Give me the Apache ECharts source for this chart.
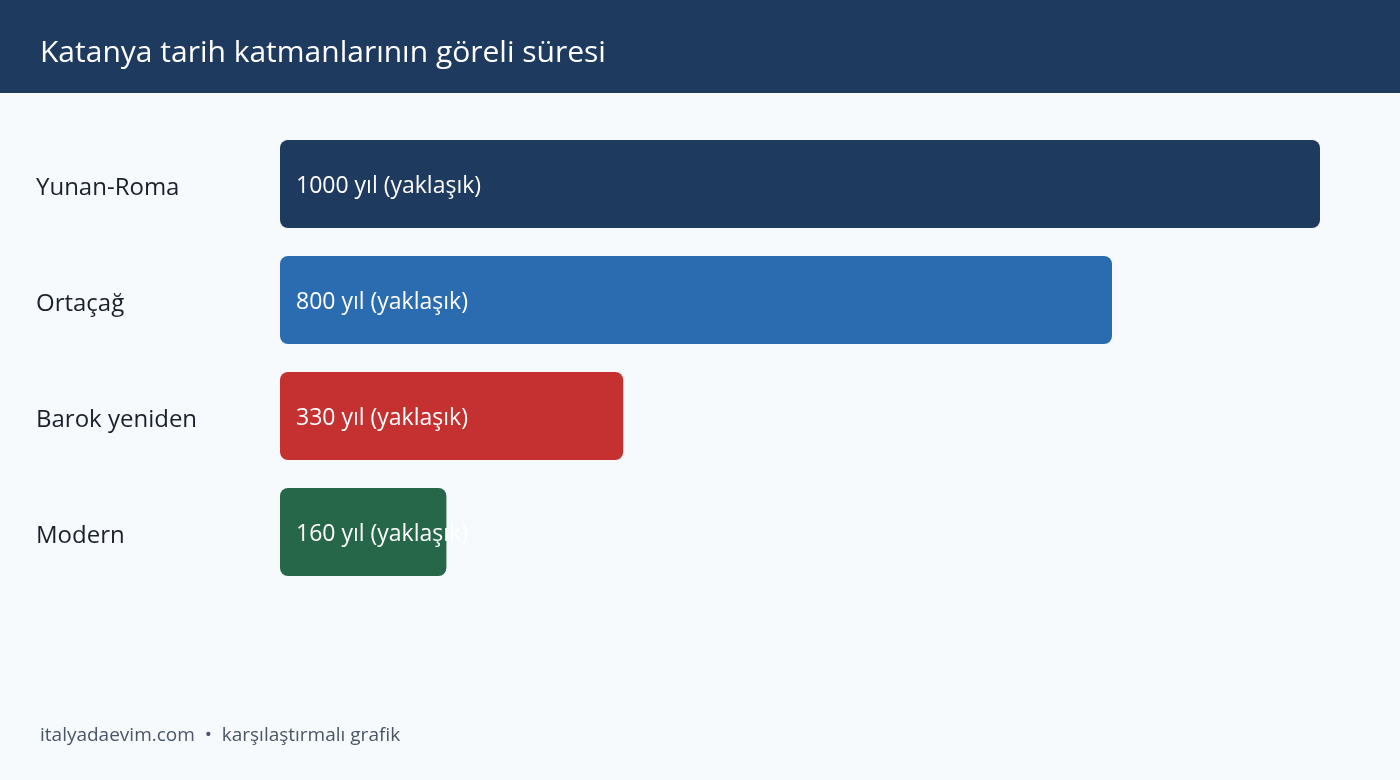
<!DOCTYPE html>
<html>
<head>
<meta charset="utf-8">
<script src="https://cdn.jsdelivr.net/npm/echarts@6/dist/echarts.min.js"></script>
<style>
	html,body{margin:0;padding:0;background:#f7fafc;}
	#chart{width:1400px;height:780px;}
</style>
</head>
<body>
<div id="chart"></div>
<script>
// donemler ve sureleri (yil)
var categories = ['Yunan-Roma', 'Ortaçağ', 'Barok yeniden', 'Modern'];
var durations = [1000, 800, 330, 160];
var barLabels = ['1000 yıl (yaklaşık)', '800 yıl (yaklaşık)', '330 yıl (yaklaşık)', '160 yıl (yaklaşık)'];
var barColors = ['#1f3a5f', '#2b6cb0', '#c53030', '#276749'];

var font = '"Open Sans", "Noto Sans", sans-serif';

var myChart = echarts.init(document.getElementById('chart'));

var option = {
	backgroundColor: '#f7fafc',
	animation: false,
	graphic: [
		{
			type: 'rect',
			left: 0, top: 0,
			shape: {width: 1400, height: 93},
			style: {fill: '#1f3a5f'},
			z: 0
		},
		{
			type: 'text',
			left: 40, top: 38,
			style: {
				text: 'Katanya tarih katmanlarının göreli süresi',
				fill: '#ffffff',
				font: '30px ' + font
			}
		},
		{
			type: 'text',
			left: 40, top: 726,
			style: {
				text: 'italyadaevim.com  •  karşılaştırmalı grafik',
				fill: '#4a5568',
				font: '19px ' + font
			}
		}
	],
	grid: {left: 280, right: 80, top: 126, height: 464, containLabel: false},
	xAxis: {
		type: 'value',
		min: 0,
		max: 1000,
		show: false
	},
	yAxis: {
		type: 'category',
		data: categories,
		inverse: true,
		axisLine: {show: false},
		axisTick: {show: false},
		splitLine: {show: false},
		axisLabel: {
			align: 'left',
			margin: 244,
			formatter: '{c|{value}}',
			rich: {
				c: {
					fontSize: 24,
					fontFamily: font,
					color: '#1a202c',
					padding: [8, 0, 0, 0]
				}
			}
		}
	},
	series: [
		{
			type: 'bar',
			barWidth: 88,
			data: durations.map(function(v, i){
				return {
					value: v,
					itemStyle: {color: barColors[i], borderRadius: 8}
				};
			}),
			label: {
				show: true,
				position: 'insideLeft',
				distance: 16,
				offset: [0, 2],
				color: '#ffffff',
				fontSize: 23,
				fontFamily: font,
				formatter: function(p){ return barLabels[p.dataIndex]; }
			}
		}
	]
};

myChart.setOption(option);
</script>
</body>
</html>
